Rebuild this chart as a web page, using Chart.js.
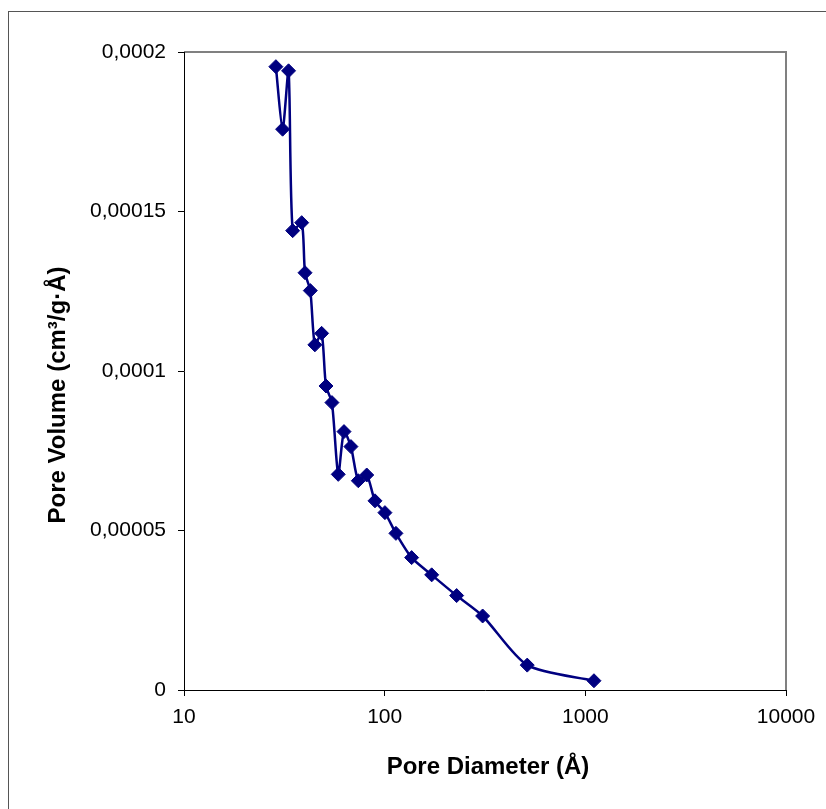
<!DOCTYPE html>
<html>
<head>
<meta charset="UTF-8">
<title>Pore Volume</title>
<style>
    body { margin: 0; background: #ffffff; }
    #poreChart { display: block; }
</style>
</head>
<body>
<canvas id="poreChart" width="826" height="809"></canvas>

<script src="https://cdn.jsdelivr.net/npm/chart.js"></script>
<script>
    // pore diameter (Å) and pore volume (cm3/g·Å)
    const diameters = [28.7, 31.0, 33.2, 34.8, 38.6, 40.1, 42.6, 44.9, 48.5, 51.0,
                       54.6, 58.7, 62.7, 67.9, 73.9, 81.4, 89.5, 100.3, 113.8, 136.3,
                       171.5, 228.4, 307.8, 513.4, 1104];
    const volumes = [0.0001954, 0.0001758, 0.0001941, 0.0001440, 0.0001465, 0.0001308,
                     0.0001252, 0.0001082, 0.0001118, 0.0000953, 0.0000901, 0.0000676,
                     0.0000810, 0.0000763, 0.0000656, 0.0000674, 0.0000593, 0.0000556,
                     0.0000491, 0.0000415, 0.0000361, 0.0000296, 0.0000232, 0.0000078,
                     0.0000029];

    const xTicks = [10, 100, 1000, 10000];
    const xTickLabels = ['10', '100', '1000', '10000'];
    const yTicks = [0, 0.00005, 0.0001, 0.00015, 0.0002];
    const yTickLabels = ['0', '0,00005', '0,0001', '0,00015', '0,0002'];

    const xTitle = 'Pore Diameter (Å)';
    const yTitle = 'Pore Volume (cm³/g·Å)';

    const navy = '#000080';
    const fontFamily = 'Arial, "Liberation Sans", sans-serif';

    // outer frame, plot frame and the two axis titles
    const framePlugin = {
        id: 'frame',
        beforeDraw(chart) {
            const ctx = chart.ctx;
            ctx.save();
            ctx.strokeStyle = '#555555';
            ctx.lineWidth = 1;
            ctx.strokeRect(8.5, 11.5, 900, 900);
            ctx.restore();
        },
        afterDatasetsDraw(chart) {
            const { ctx, chartArea: a } = chart;
            ctx.save();
            ctx.strokeStyle = '#808080';
            ctx.lineWidth = 2;
            ctx.beginPath();
            ctx.moveTo(a.left, a.top);
            ctx.lineTo(a.right, a.top);
            ctx.lineTo(a.right, a.bottom);
            ctx.stroke();
            ctx.strokeStyle = '#000000';
            ctx.lineWidth = 1;
            ctx.beginPath();
            ctx.moveTo(a.left + 0.5, a.top);
            ctx.lineTo(a.left + 0.5, a.bottom + 0.5);
            ctx.lineTo(a.right, a.bottom + 0.5);
            ctx.stroke();

            ctx.fillStyle = '#000000';
            ctx.font = 'bold 24px ' + fontFamily;
            ctx.textAlign = 'center';
            ctx.textBaseline = 'middle';
            ctx.fillText(xTitle, (a.left + a.right) / 2 + 3, 767);
            ctx.translate(58, 395);
            ctx.rotate(-Math.PI / 2);
            ctx.fillText(yTitle, 0, 0);
            ctx.restore();
        }
    };

    new Chart(document.getElementById('poreChart'), {
        type: 'line',
        data: {
            datasets: [{
                data: diameters.map((d, i) => ({ x: d, y: volumes[i] })),
                borderColor: navy,
                backgroundColor: navy,
                borderWidth: 2.5,
                tension: 0.25,
                pointStyle: 'rectRot',
                pointRadius: 7,
                pointBorderWidth: 1,
                pointBorderColor: navy,
                pointBackgroundColor: navy,
                fill: false
            }]
        },
        options: {
            responsive: false,
            animation: false,
            layout: { padding: { left: 0, top: 52, right: 40, bottom: 0 } },
            plugins: {
                legend: { display: false },
                tooltip: { enabled: false }
            },
            scales: {
                x: {
                    type: 'logarithmic',
                    min: 10,
                    max: 10000,
                    afterBuildTicks: (scale) => { scale.ticks = xTicks.map(v => ({ value: v })); },
                    afterFit: (scale) => { scale.height = 119; },
                    border: { display: false },
                    grid: { drawOnChartArea: false, color: '#000000', tickLength: 6 },
                    ticks: {
                        color: '#000000',
                        padding: 9,
                        maxRotation: 0,
                        autoSkip: false,
                        font: { family: fontFamily, size: 21 },
                        callback: (v) => xTickLabels[xTicks.indexOf(v)]
                    }
                },
                y: {
                    min: 0,
                    max: 0.0002,
                    afterBuildTicks: (scale) => { scale.ticks = yTicks.map(v => ({ value: v })); },
                    afterFit: (scale) => { scale.width = 184; },
                    border: { display: false },
                    grid: { drawOnChartArea: false, color: '#000000', tickLength: 6 },
                    ticks: {
                        color: '#000000',
                        padding: 12,
                        font: { family: fontFamily, size: 21 },
                        callback: (v, i) => yTickLabels[i]
                    }
                }
            }
        },
        plugins: [framePlugin]
    });
</script>
</body>
</html>
